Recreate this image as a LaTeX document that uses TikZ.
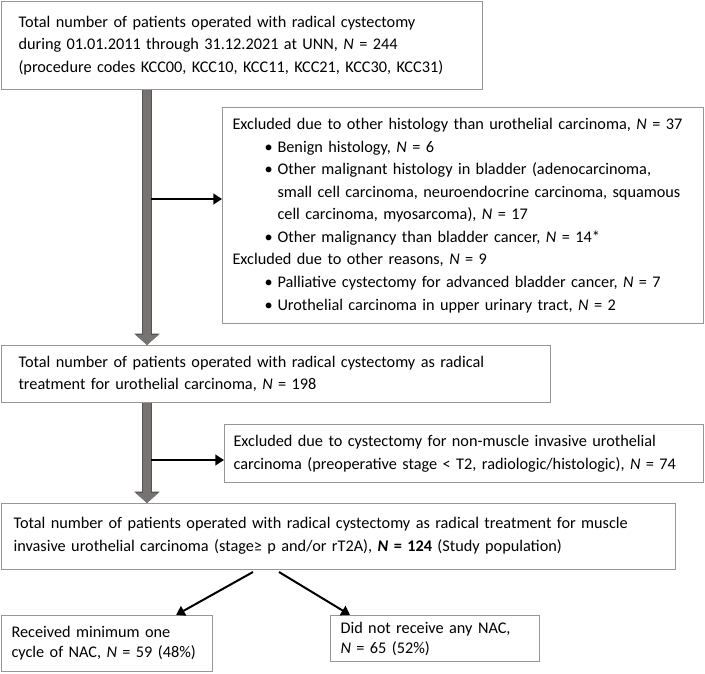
\documentclass[tikz,border=0pt]{standalone}
\usepackage{fontspec}
\setmainfont{Carlito}
\usetikzlibrary{arrows.meta,positioning}

\definecolor{boxline}{RGB}{150,150,150}
\definecolor{trunkgray}{RGB}{120,115,115}
\definecolor{trunkedge}{RGB}{85,82,82}
\newcommand{\boxfont}{\fontsize{12.2pt}{16.9pt}\selectfont\hyphenpenalty=10000\relax}
\newcommand{\tightfont}{\fontsize{12.2pt}{15pt}\selectfont\hyphenpenalty=10000\relax}
\newcommand{\Ni}{\textit{N}}
\newcommand{\bul}{\hspace*{24pt}\makebox[9.75pt][l]{\textbullet}}
\newcommand{\ind}{\hspace*{33.75pt}}

\begin{document}
\begin{tikzpicture}[x=0.75pt,y=-0.75pt,
	box/.style={draw=boxline,line width=0.8pt,anchor=north west,align=left,inner ysep=0pt,font=\boxfont},
	trunk/.style={draw=trunkgray,line width=6pt,-{Triangle[length=7.5pt,width=16.5pt]},
		preaction={draw=trunkedge,line width=7.5pt,-{Triangle[length=8.5pt,width=18.5pt]}}},
	link/.style={draw=black,line width=1.5pt,-{Triangle[length=6.5pt,width=8pt]}}]
	\useasboundingbox (0,0) rectangle (705,673);
	\node[box,text width=335.25pt,inner xsep=12.75pt,minimum height=66pt] (total) at (1,1) {Total number of patients operated with radical cystectomy\\ during 01.01.2011 through 31.12.2021 at UNN, \Ni{} = 244\\ (procedure codes KCC00, KCC10, KCC11, KCC21, KCC30, KCC31)};
	\node[box,text width=345.75pt,inner xsep=7.5pt,minimum height=162pt] (excl) at (222,107) {Excluded due to other histology than urothelial carcinoma, \Ni{} = 37\\
		\bul Benign histology, \Ni{} = 6\\
		\bul Other malignant histology in bladder (adenocarcinoma,\\
		\ind small cell carcinoma, neuroendocrine carcinoma, squamous\\
		\ind cell carcinoma, myosarcoma), \Ni{} = 17\\
		\bul Other malignancy than bladder cancer, \Ni{} = 14*\\
		Excluded due to other reasons, \Ni{} = 9\\
		\bul Palliative cystectomy for advanced bladder cancer, \Ni{} = 7\\
		\bul Urothelial carcinoma in upper urinary tract, \Ni{} = 2};
	\node[box,text width=386.25pt,inner xsep=12.75pt,minimum height=42.75pt] (treat) at (1,345) {Total number of patients operated with radical cystectomy as radical\\ treatment for urothelial carcinoma, \Ni{} = 198};
	\node[box,text width=345.75pt,inner xsep=6.75pt,minimum height=43.5pt] (nmibc) at (224,424) {Excluded due to cystectomy for non-muscle invasive urothelial\\ carcinoma (preoperative stage < T2, radiologic/histologic), \Ni{} = 74};
	\node[box,text width=487.5pt,inner xsep=9pt,minimum height=49.5pt,text depth=20pt] (mibc) at (1,503) {Total number of patients operated with radical cystectomy as radical treatment for muscle\\ invasive urothelial carcinoma (stage≥ p and/or rT2A), \textbf{\Ni{} = 124} (Study population)};
	\node[box,text width=143.25pt,inner xsep=7.5pt,minimum height=42pt,font=\tightfont] (nac) at (1,615) {Received minimum one\\ cycle of NAC, \Ni{} = 59 (48\%)};
	\node[box,text width=141.75pt,inner xsep=7.5pt,minimum height=34.5pt,font=\tightfont] (nonac) at (330,615) {Did not receive any NAC,\\ \Ni{} = 65 (52\%)};
	\coordinate (spine) at (147,0);
	\coordinate (b1) at (151,199);
	\coordinate (b2) at (151,460);
	\coordinate (s1) at (253,572);
	\coordinate (s2) at (279,572);
	\draw[trunk] (total.south -| spine) -- (treat.north -| spine);
	\draw[trunk] (treat.south -| spine) -- (mibc.north -| spine);
	\draw[link] (b1) -- (b1 -| excl.west);
	\draw[link] (b2) -- (b2 -| nmibc.west);
	\draw[link] (s1) -- ([xshift=-27.75pt]nac.north east);
	\draw[link] (s2) -- ([xshift=15pt]nonac.north west);
\end{tikzpicture}
\end{document}
